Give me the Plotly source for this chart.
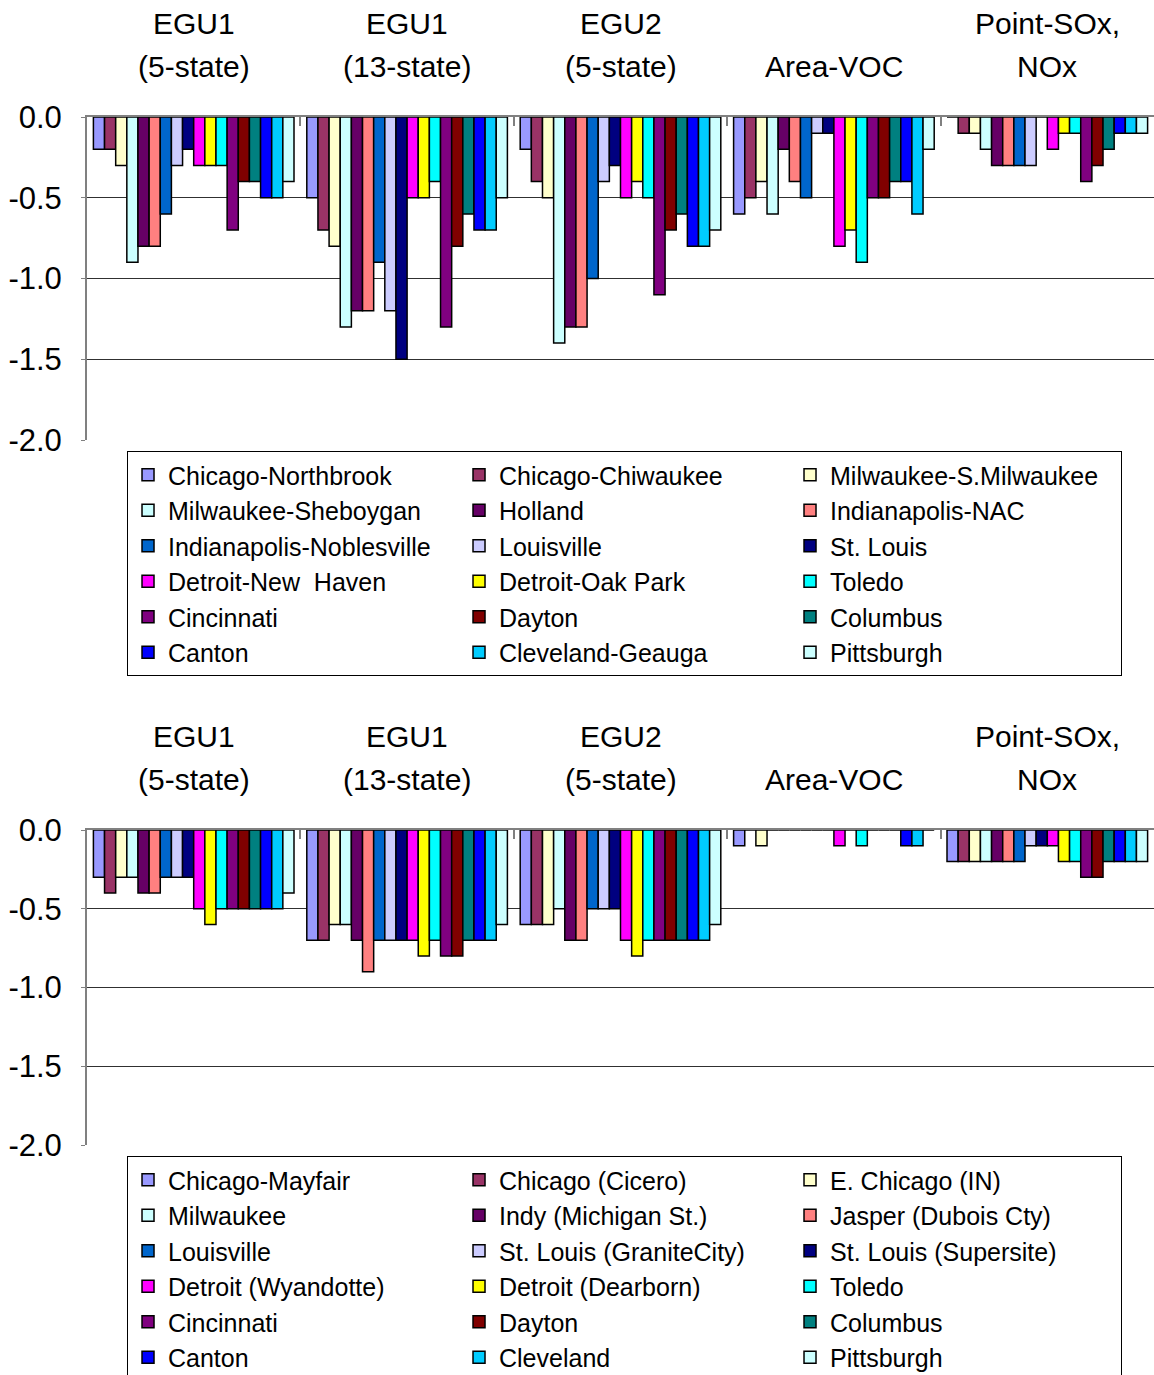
import plotly.graph_objects as go

# Source categories (shared by both panels)
categories = ["EGU1<br>(5-state)", "EGU1<br>(13-state)", "EGU2<br>(5-state)", "Area-VOC", "Point-SOx,<br>NOx"]

# Upper panel: site names and their responses per category
sites_top = [
    "Chicago-Northbrook", "Chicago-Chiwaukee", "Milwaukee-S.Milwaukee",
    "Milwaukee-Sheboygan", "Holland", "Indianapolis-NAC",
    "Indianapolis-Noblesville", "Louisville", "St. Louis",
    "Detroit-New  Haven", "Detroit-Oak Park", "Toledo",
    "Cincinnati", "Dayton", "Columbus",
    "Canton", "Cleveland-Geauga", "Pittsburgh",
]
chicago_northbrook = [-0.2, -0.5, -0.2, -0.6, 0.0]
chicago_chiwaukee = [-0.2, -0.7, -0.4, -0.5, -0.1]
milw_s_milw = [-0.3, -0.8, -0.5, -0.4, -0.1]
milw_sheboygan = [-0.9, -1.3, -1.4, -0.6, -0.2]
holland = [-0.8, -1.2, -1.3, -0.2, -0.3]
indy_nac = [-0.8, -1.2, -1.3, -0.4, -0.3]
indy_noblesville = [-0.6, -0.9, -1.0, -0.5, -0.3]
louisville_top = [-0.3, -1.2, -0.4, -0.1, -0.3]
st_louis = [-0.2, -1.5, -0.3, -0.1, 0.0]
detroit_new_haven = [-0.3, -0.5, -0.5, -0.8, -0.2]
detroit_oak_park = [-0.3, -0.5, -0.4, -0.7, -0.1]
toledo_top = [-0.3, -0.4, -0.5, -0.9, -0.1]
cincinnati_top = [-0.7, -1.3, -1.1, -0.5, -0.4]
dayton_top = [-0.4, -0.8, -0.7, -0.5, -0.3]
columbus_top = [-0.4, -0.6, -0.6, -0.4, -0.2]
canton_top = [-0.5, -0.7, -0.8, -0.4, -0.1]
cleveland_geauga = [-0.5, -0.7, -0.8, -0.6, -0.1]
pittsburgh_top = [-0.4, -0.5, -0.7, -0.2, -0.1]
values_top = [
    chicago_northbrook, chicago_chiwaukee, milw_s_milw,
    milw_sheboygan, holland, indy_nac,
    indy_noblesville, louisville_top, st_louis,
    detroit_new_haven, detroit_oak_park, toledo_top,
    cincinnati_top, dayton_top, columbus_top,
    canton_top, cleveland_geauga, pittsburgh_top,
]

# Lower panel: site names and their responses per category
sites_bottom = [
    "Chicago-Mayfair", "Chicago (Cicero)", "E. Chicago (IN)",
    "Milwaukee", "Indy (Michigan St.)", "Jasper (Dubois Cty)",
    "Louisville", "St. Louis (GraniteCity)", "St. Louis (Supersite)",
    "Detroit (Wyandotte)", "Detroit (Dearborn)", "Toledo",
    "Cincinnati", "Dayton", "Columbus",
    "Canton", "Cleveland", "Pittsburgh",
]
chicago_mayfair = [-0.3, -0.7, -0.6, -0.1, -0.2]
chicago_cicero = [-0.4, -0.7, -0.6, 0.0, -0.2]
e_chicago = [-0.3, -0.6, -0.6, -0.1, -0.2]
milwaukee = [-0.3, -0.6, -0.5, 0.0, -0.2]
indy_michigan = [-0.4, -0.7, -0.7, 0.0, -0.2]
jasper = [-0.4, -0.9, -0.7, 0.0, -0.2]
louisville_bot = [-0.3, -0.7, -0.5, 0.0, -0.2]
granite_city = [-0.3, -0.7, -0.5, 0.0, -0.1]
supersite = [-0.3, -0.7, -0.5, 0.0, -0.1]
wyandotte = [-0.5, -0.7, -0.7, -0.1, -0.1]
dearborn = [-0.6, -0.8, -0.8, 0.0, -0.2]
toledo_bot = [-0.5, -0.7, -0.7, -0.1, -0.2]
cincinnati_bot = [-0.5, -0.8, -0.7, 0.0, -0.3]
dayton_bot = [-0.5, -0.8, -0.7, 0.0, -0.3]
columbus_bot = [-0.5, -0.7, -0.7, 0.0, -0.2]
canton_bot = [-0.5, -0.7, -0.7, -0.1, -0.2]
cleveland_bot = [-0.5, -0.7, -0.7, -0.1, -0.2]
pittsburgh_bot = [-0.4, -0.6, -0.6, 0.0, -0.2]
values_bottom = [
    chicago_mayfair, chicago_cicero, e_chicago,
    milwaukee, indy_michigan, jasper,
    louisville_bot, granite_city, supersite,
    wyandotte, dearborn, toledo_bot,
    cincinnati_bot, dayton_bot, columbus_bot,
    canton_bot, cleveland_bot, pittsburgh_bot,
]

# Y axis ticks
y_tickvals = [0.0, -0.5, -1.0, -1.5, -2.0]
y_ticktext = ["0.0", "-0.5", "-1.0", "-1.5", "-2.0"]

# Classic spreadsheet palette, one colour per site slot
colors = [
    "#9999FF", "#993366", "#FFFFCC",
    "#CCFFFF", "#660066", "#FF8080",
    "#0066CC", "#CCCCFF", "#000080",
    "#FF00FF", "#FFFF00", "#00FFFF",
    "#800080", "#800000", "#008080",
    "#0000FF", "#00CCFF", "#CCFFFF",
]

FONT = "Liberation Sans, Arial, sans-serif"
H = 1375
TOP_DOMAIN = [1 - 440 / H, 1 - 117 / H]
BOT_DOMAIN = [1 - 1145 / H, 1 - 830 / H]

fig = go.Figure()

for name, vals, col in zip(sites_top, values_top, colors):
    fig.add_trace(go.Bar(
        x=categories, y=vals, name=name, marker_color=col,
        marker_line_color="black", marker_line_width=1.5,
        xaxis="x", yaxis="y", legend="legend",
    ))

for name, vals, col in zip(sites_bottom, values_bottom, colors):
    fig.add_trace(go.Bar(
        x=categories, y=vals, name=name, marker_color=col,
        marker_line_color="black", marker_line_width=1.5,
        xaxis="x2", yaxis="y2", legend="legend2",
    ))


def xaxis_style(anchor):
    return dict(
        anchor=anchor, side="top", domain=[0, 1],
        type="category", categoryorder="array", categoryarray=categories,
        showline=True, linecolor="#808080", linewidth=2,
        ticks="inside", tickson="boundaries", ticklen=9,
        tickcolor="#808080", tickwidth=1.5,
        showticklabels=False,
        showgrid=False, zeroline=False,
    )


def yaxis_style(anchor, domain):
    return dict(
        anchor=anchor, domain=domain, range=[-2.0, 0.0],
        tickvals=y_tickvals, ticktext=y_ticktext,
        tickfont=dict(family=FONT, size=31, color="black"),
        ticks="outside", ticklen=4, tickcolor="#808080",
        ticklabelstandoff=13,
        showline=True, linecolor="#808080", linewidth=2,
        showgrid=True, gridcolor="#303030", gridwidth=1,
        zeroline=False,
    )


# Category labels above each panel, one line per annotation, bottom line aligned
annotations = []
for xref, domain in (("x", TOP_DOMAIN), ("x2", BOT_DOMAIN)):
    for cat in categories:
        lines = cat.split("<br>")
        n = len(lines)
        for i, line in enumerate(lines):
            offset = 51 + 43 * (n - 1 - i)
            annotations.append(dict(
                x=cat, xref=xref, y=domain[1], yref="paper",
                yshift=offset, yanchor="middle", xanchor="center",
                text=line, showarrow=False,
                font=dict(family=FONT, size=30, color="black"),
            ))

legend_common = dict(
    orientation="h", xanchor="left", yanchor="top",
    entrywidth=286, entrywidthmode="pixels",
    bgcolor="white", bordercolor="black", borderwidth=1,
    font=dict(family=FONT, size=25, color="black"),
    traceorder="normal",
)

fig.update_layout(
    width=1154, height=H,
    margin=dict(l=87, r=0, t=0, b=0, autoexpand=False),
    paper_bgcolor="white", plot_bgcolor="white",
    barmode="group", bargap=0.06, bargroupgap=0,
    showlegend=True,
    xaxis=xaxis_style("y"),
    yaxis=yaxis_style("x", TOP_DOMAIN),
    xaxis2=xaxis_style("y2"),
    yaxis2=yaxis_style("x2", BOT_DOMAIN),
    legend=dict(x=0.0375, y=1 - 451 / H, **legend_common),
    legend2=dict(x=0.0375, y=1 - 1156 / H, **legend_common),
    annotations=annotations,
)

fig.write_html("out.html")
